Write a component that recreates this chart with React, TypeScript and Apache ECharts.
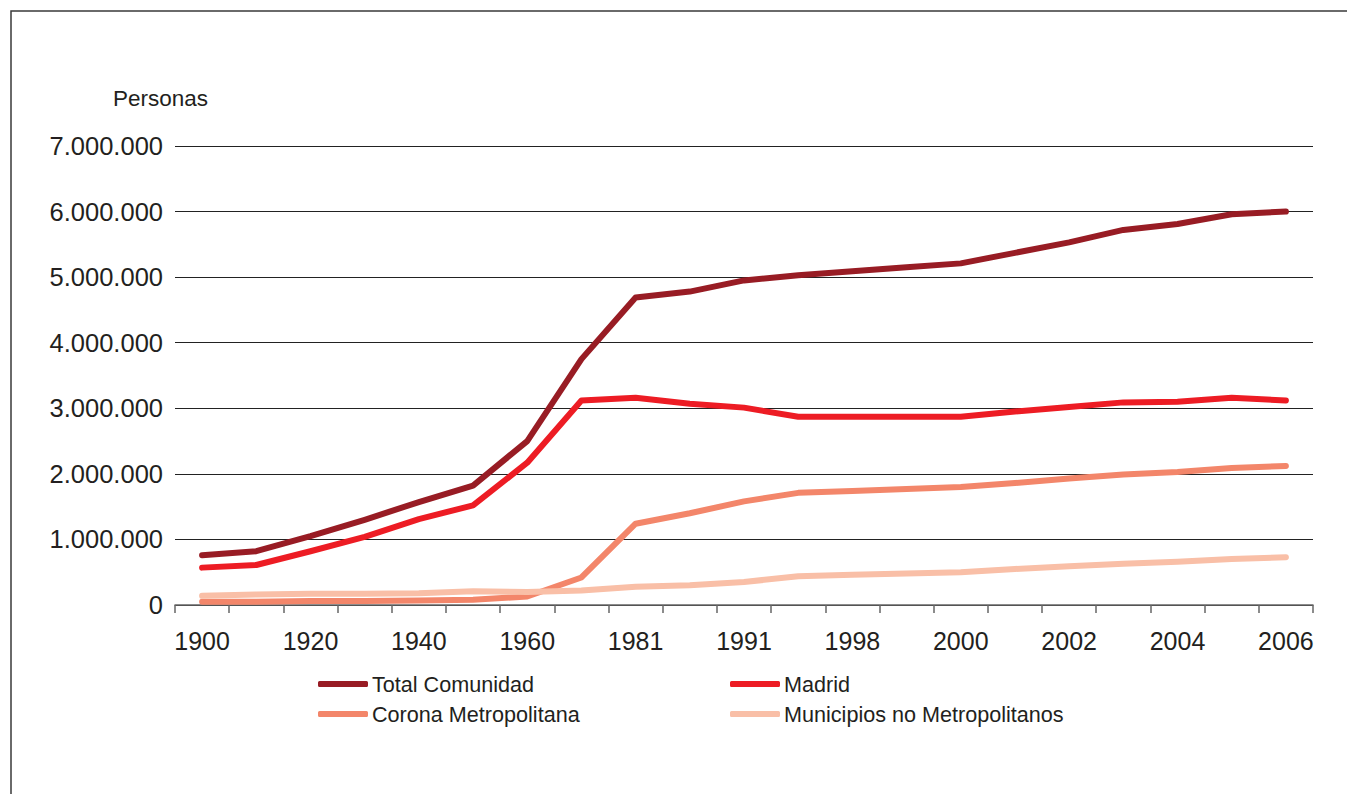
import React, { useEffect, useRef } from "react";
import * as echarts from "echarts";

const years = ["1900","1910","1920","1930","1940","1950","1960","1970","1981","1986","1991","1996","1998","1999","2000","2001","2002","2003","2004","2005","2006"];
const totalComunidad = [760000,820000,1050000,1300000,1570000,1820000,2500000,3750000,4690000,4780000,4950000,5030000,5090000,5150000,5210000,5370000,5530000,5720000,5810000,5960000,6000000];
const madrid = [570000,610000,820000,1040000,1310000,1520000,2170000,3120000,3160000,3070000,3010000,2870000,2870000,2870000,2870000,2950000,3020000,3090000,3100000,3160000,3120000];
const corona = [50000,50000,60000,60000,70000,80000,130000,420000,1240000,1400000,1580000,1710000,1740000,1770000,1800000,1860000,1930000,1990000,2030000,2090000,2120000];
const municipios = [140000,160000,170000,170000,180000,210000,200000,220000,280000,300000,350000,440000,460000,480000,500000,550000,590000,630000,660000,700000,730000];
const seriesNames = ["Total Comunidad","Madrid","Corona Metropolitana","Municipios no Metropolitanos"];
const seriesColors = ["#981c24","#ed1c24","#f3866a","#f9bfa7"];
const yTickMax = 7000000;
const yTickStep = 1000000;
const yAxisTitle = "Personas";

const FONT = "'Liberation Sans', Arial, sans-serif";
const TXT = "#231f20";

function fmt(v: number): string {
  return String(Math.round(v)).replace(/\B(?=(\d{3})+(?!\d))/g, ".");
}

export default function App() {
  const ref = useRef<HTMLDivElement>(null);
  useEffect(() => {
    if (!ref.current) return;
    const chart = echarts.init(ref.current, undefined, { renderer: "svg" });
    const data = [totalComunidad, madrid, corona, municipios];
    const legendText = { fontSize: 21.6, color: TXT, fontFamily: FONT, padding: [0, 0, 0, -1] };
    chart.setOption({
      animation: false,
      backgroundColor: "#ffffff",
      textStyle: { fontFamily: FONT },
      graphic: [
        { type: "rect", shape: { x: 11, y: 11, width: 1400, height: 900 }, style: { fill: "none", stroke: "#3a3a3a", lineWidth: 1.5 }, silent: true },
        { type: "text", x: 113, y: 98, style: { text: yAxisTitle, fontSize: 22.5, fontFamily: FONT, fill: TXT, verticalAlign: "middle" } },
      ],
      grid: { left: 175, right: 34, top: 146, bottom: 189, containLabel: false },
      legend: [
        {
          data: [seriesNames[0], seriesNames[2]],
          orient: "vertical",
          left: 313,
          top: 668,
          itemWidth: 50,
          itemHeight: 6,
          itemGap: 8,
          icon: "roundRect",
          textStyle: legendText,
        },
        {
          data: [seriesNames[1], seriesNames[3]],
          orient: "vertical",
          left: 725,
          top: 668,
          itemWidth: 50,
          itemHeight: 6,
          itemGap: 8,
          icon: "roundRect",
          textStyle: legendText,
        },
      ],
      xAxis: {
        type: "category",
        data: years,
        boundaryGap: true,
        axisLine: { show: true, lineStyle: { color: "#666", width: 1.5 } },
        axisTick: { show: true, interval: 0, length: 8, lineStyle: { color: "#666", width: 1.5 } },
        axisLabel: { interval: 1, fontSize: 25, color: TXT, margin: 23, fontFamily: FONT },
        splitLine: { show: false },
      },
      yAxis: {
        type: "value",
        min: 0,
        max: yTickMax,
        interval: yTickStep,
        axisLine: { show: false },
        axisTick: { show: false },
        axisLabel: { fontSize: 25.5, color: TXT, margin: 12, fontFamily: FONT, formatter: (v: number) => fmt(v) },
        splitLine: { show: true, lineStyle: { color: "#222", width: 1.2 } },
      },
      series: seriesNames.map((n, i) => ({
        name: n,
        type: "line",
        data: data[i],
        showSymbol: false,
        symbol: "none",
        lineStyle: { color: seriesColors[i], width: 6, cap: "round", join: "round" },
        itemStyle: { color: seriesColors[i] },
        z: 2 + i,
      })),
    });
    return () => chart.dispose();
  }, []);
  return <div ref={ref} style={{ position: "fixed", left: 0, top: 0, width: 1347, height: 794 }} />;
}
